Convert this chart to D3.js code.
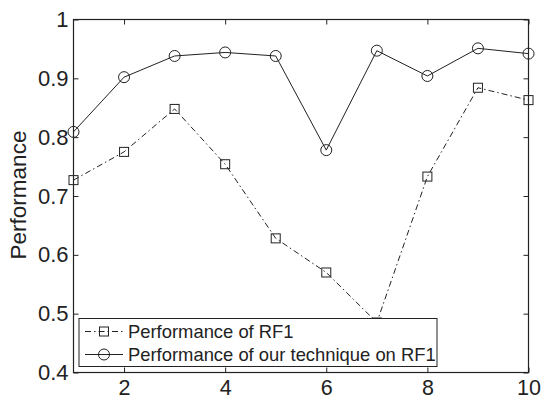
<!DOCTYPE html>
<html><head><meta charset="utf-8">
<script src="https://cdn.jsdelivr.net/npm/d3@7"></script>
<style>body{margin:0;background:#fff}svg{display:block}text{font-family:"Liberation Sans",Arial,sans-serif;fill:#222}</style>
</head><body><svg id="c" width="541" height="400"></svg>
<script>
const xs = [1,2,3,4,5,6,7,8,9,10];
const rf1 = [0.727,0.775,0.848,0.754,0.628,0.570,0.485,0.733,0.884,0.863];
const ours = [0.809,0.902,0.938,0.944,0.938,0.778,0.947,0.904,0.951,0.942];
const xTicks = [2,4,6,8,10];
const yTicks = [0.4,0.5,0.6,0.7,0.8,0.9,1];
const legendLabels = ["Performance of RF1","Performance of our technique on RF1"];
const yLabel = "Performance";

const svg = d3.select("#c");
const L=73.5,R=528.5,T=19.5,B=372.5;
const x = d3.scaleLinear().domain([1,10]).range([L,R]);
const y = d3.scaleLinear().domain([0.4,1]).range([B,T]);
const col="#222";

// ticks
const g = svg.append("g");
g.append("g").attr("transform",`translate(0,${B})`).call(d3.axisBottom(x).tickValues(xTicks).tickFormat(d3.format("d")).tickSize(-5))
 .call(a=>{a.select(".domain").remove();a.selectAll("text").style("font-size","21.5px").attr("fill",col).attr("y",395.3-B).attr("dy",0);a.selectAll("line").attr("stroke",col);});
g.append("g").attr("transform",`translate(0,${T})`).call(d3.axisTop(x).tickValues(xTicks).tickFormat("").tickSize(-5))
 .call(a=>{a.select(".domain").remove();a.selectAll("line").attr("stroke",col);});
g.append("g").attr("transform",`translate(${L},0)`).call(d3.axisLeft(y).tickValues(yTicks).tickFormat(d=>d===1?"1":d3.format(".1f")(d)).tickSize(-5).tickPadding(5))
 .call(a=>{a.select(".domain").remove();a.selectAll("text").style("font-size","22px").attr("fill",col);a.selectAll("line").attr("stroke",col);});
g.append("g").attr("transform",`translate(${R},0)`).call(d3.axisRight(y).tickValues(yTicks).tickFormat("").tickSize(-5))
 .call(a=>{a.select(".domain").remove();a.selectAll("line").attr("stroke",col);});

// lines
const line = (vals)=>d3.line().x((d,i)=>x(xs[i])).y(d=>y(d))(vals);
svg.append("path").attr("d",line(rf1)).attr("fill","none").attr("stroke",col).attr("stroke-width",1).attr("stroke-dasharray","6,3,1.5,3");
svg.append("path").attr("d",line(ours)).attr("fill","none").attr("stroke",col).attr("stroke-width",1);
const s=9;
svg.append("g").selectAll("rect").data(rf1).join("rect")
 .attr("x",(d,i)=>x(xs[i])-s/2).attr("y",d=>y(d)-s/2).attr("width",s).attr("height",s)
 .attr("fill","none").attr("stroke",col).attr("stroke-width",1);
svg.append("g").selectAll("circle").data(ours).join("circle")
 .attr("cx",(d,i)=>x(xs[i])).attr("cy",d=>y(d)).attr("r",5.5)
 .attr("fill","none").attr("stroke",col).attr("stroke-width",1);

// box
svg.append("rect").attr("x",L).attr("y",T).attr("width",R-L).attr("height",B-T).attr("fill","none").attr("stroke",col).attr("stroke-width",1.2);

// y label
svg.append("text").attr("transform",`translate(26,195) rotate(-90)`).attr("text-anchor","middle").style("font-size","22.5px").text(yLabel);

// legend
const lg = svg.append("g");
lg.append("rect").attr("x",79).attr("y",318.5).attr("width",358).attr("height",48).attr("fill","#fff").attr("stroke",col).attr("stroke-width",1);
const rows=[331.5,354.5];
lg.append("line").attr("x1",85).attr("x2",123).attr("y1",rows[0]).attr("y2",rows[0]).attr("stroke",col).attr("stroke-dasharray","6,3,1.5,3");
lg.append("rect").attr("x",104-s/2).attr("y",rows[0]-s/2).attr("width",s).attr("height",s).attr("fill","none").attr("stroke",col);
lg.append("line").attr("x1",85).attr("x2",123).attr("y1",rows[1]).attr("y2",rows[1]).attr("stroke",col);
lg.append("circle").attr("cx",104).attr("cy",rows[1]).attr("r",5.5).attr("fill","none").attr("stroke",col);
lg.selectAll("text.l").data(legendLabels).join("text").attr("class","l")
 .attr("x",128).attr("y",(d,i)=>rows[i]).attr("dy","0.35em").style("font-size","18.4px").text(d=>d);
</script></body></html>
